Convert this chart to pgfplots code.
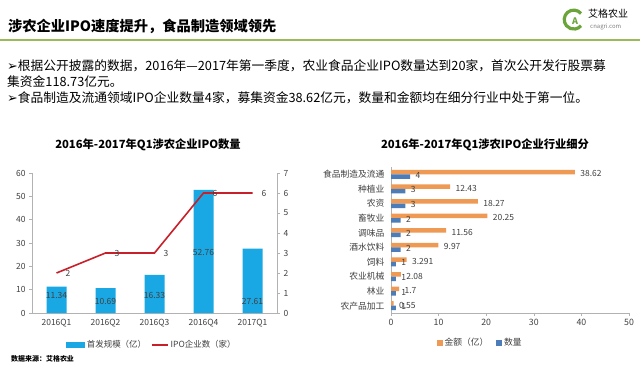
\documentclass[border=0pt]{standalone}
\usepackage{pgfplots}
\pgfplotsset{compat=1.18}
\usepackage{fontspec}
\setmainfont{Noto Sans CJK SC}
\newfontfamily\dejavu{DejaVu Sans}
\definecolor{barblue}{HTML}{1AA8E4}
\definecolor{linered}{HTML}{C8202A}
\definecolor{amtorange}{HTML}{EE9A55}
\definecolor{cntblue}{HTML}{4C7DB8}
\definecolor{logogreen}{HTML}{6BA53A}
\definecolor{rulegreen}{HTML}{9BBB59}
\definecolor{ticktext}{HTML}{404040}
\begin{document}
\begin{tikzpicture}[x=1bp,y=1bp]
\path[use as bounding box] (0,0) rectangle (640,367);
\fill[white] (0,0) rectangle (640,367);
% header
\node[anchor=west, inner sep=0, font=\fontsize{14.3}{14.3}\selectfont\bfseries] at (8,341) {涉农企业IPO速度提升，食品制造领域领先};
\fill[rulegreen] (0,326) rectangle (640,327.6);
% logo
\draw[logogreen, line width=3.2bp] (581,353.5) arc[start angle=40, end angle=320, radius=9.5];
\node[text=logogreen, font=\fontsize{9}{9}\selectfont\bfseries, inner sep=0] at (575,346) {A};
\node[anchor=west, inner sep=0, font=\fontsize{10}{10}\selectfont] at (588,353) {艾格农业};
\node[anchor=west, inner sep=0, text=gray, font=\fontsize{6}{6}\selectfont] at (590,340.5) {cnagri.com};
% bullets
\node[anchor=west, inner sep=0, font=\fontsize{12.8}{12.8}\selectfont] at (7,301) {{\dejavu ➢}根据公开披露的数据，2016年—2017年第一季度，农业食品企业IPO数量达到20家，首次公开发行股票募};
\node[anchor=west, inner sep=0, font=\fontsize{12.8}{12.8}\selectfont] at (7,285) {集资金118.73亿元。};
\node[anchor=west, inner sep=0, font=\fontsize{12.8}{12.8}\selectfont] at (7,269) {{\dejavu ➢}食品制造及流通领域IPO企业数量4家，募集资金38.62亿元，数量和金额均在细分行业中处于第一位。};
% chart titles
\node[font=\fontsize{11.3}{11.3}\selectfont\bfseries] at (148,222) {2016年-2017年Q1涉农企业IPO数量};
\node[font=\fontsize{11.3}{11.3}\selectfont\bfseries] at (485,222) {2016年-2017年Q1涉农IPO企业行业细分};
% source
\node[anchor=west, inner sep=0, font=\fontsize{7}{7}\selectfont\bfseries] at (11,8) {数据来源：艾格农业};

% ===== left chart: bars =====
\begin{axis}[at={(32bp,54bp)}, anchor=south west, width=245bp, height=140bp, scale only axis,
  xmin=-0.5, xmax=4.5, ymin=0, ymax=60, ytick={0,10,...,60},
  xtick={0,1,2,3,4}, xticklabels={2016Q1,2016Q2,2016Q3,2016Q4,2017Q1},
  axis x line*=bottom, axis y line*=left,
  axis line style={draw=gray!60, line width=0.6bp, -},
  ytick style={draw=gray!60, line width=0.6bp}, xtick style={draw=none},
  tick align=outside, major tick length=3bp,
  tick label style={font=\fontsize{8.5}{8.5}\selectfont, text=ticktext},
  /pgf/number format/assume math mode=true,
  legend style={at={(0.49,-0.229)}, anchor=center, draw=none, fill=none, legend columns=2,
    font=\fontsize{8.5}{8.5}\selectfont, text=ticktext, /tikz/every even column/.append style={column sep=3bp}},
  legend cell align=left]
\addplot[ybar, bar width=20bp, fill=barblue, draw=none, forget plot] coordinates {(0,11.34) (1,10.69) (2,16.33) (3,52.76) (4,27.61)};
\addplot[draw=none, mark=none, forget plot, nodes near coords, point meta=explicit symbolic,
  nodes near coords style={anchor=center, font=\fontsize{8.5}{8.5}\selectfont, text=ticktext}]
  coordinates {(0,7.3)[11.34] (1,4.9)[10.69] (2,7.3)[16.33] (3,26)[52.76] (4,5.1)[27.61]};
\addlegendimage{area legend, legend image code/.code={\fill[barblue] (0bp,-2.5bp) rectangle (18bp,2.5bp);}}
\addlegendentry{首发规模（亿）}
\addlegendimage{legend image code/.code={\draw[linered, line width=1.6bp] (0bp,0bp) -- (16bp,0bp);}}
\addlegendentry{IPO企业数（家）}
\end{axis}
% ===== left chart: line =====
\begin{axis}[at={(32bp,54bp)}, anchor=south west, width=245bp, height=140bp, scale only axis,
  xmin=-0.5, xmax=4.5, ymin=0, ymax=7, ytick={0,1,...,7},
  axis x line=none, axis y line*=right,
  axis line style={draw=gray!60, line width=0.6bp, -},
  ytick style={draw=gray!60, line width=0.6bp},
  tick align=outside, major tick length=3bp,
  tick label style={font=\fontsize{8.5}{8.5}\selectfont, text=ticktext},
  /pgf/number format/assume math mode=true]
\addplot[linered, line width=1.6bp, mark=none, nodes near coords, point meta=explicit symbolic,
  nodes near coords style={anchor=west, xshift=5bp, yshift=0bp, font=\fontsize{8.5}{8.5}\selectfont, text=ticktext}]
  coordinates {(0,2)[2] (1,3)[3] (2,3)[3] (3,6)[6] (4,6)[6]};
\end{axis}

% ===== right chart =====
\begin{axis}[at={(391bp,54bp)}, anchor=south west, width=238bp, height=146bp, scale only axis,
  xmin=0, xmax=50, xtick={0,10,...,50}, ymin=-0.5, ymax=9.5, ytick={0,1,...,9},
  yticklabels={农产品加工,林业,农业机械,饲料,酒水饮料,调味品,畜牧业,农资,种植业,食品制造及流通},
  axis x line*=bottom, axis y line*=left,
  axis line style={draw=gray!60, line width=0.6bp, -},
  xtick style={draw=gray!60, line width=0.6bp}, ytick style={draw=none},
  tick align=outside, major tick length=3bp,
  tick label style={font=\fontsize{8.8}{8.8}\selectfont, text=ticktext},
  /pgf/number format/assume math mode=true,
  legend style={at={(0.375,-0.205)}, anchor=center, draw=none, fill=none, legend columns=2,
    font=\fontsize{8.8}{8.8}\selectfont, text=ticktext, /tikz/every even column/.append style={column sep=6bp}},
  legend cell align=left]
\addplot[xbar, bar width=4.5bp, bar shift=2.25bp, fill=amtorange, draw=none,
  nodes near coords, point meta=explicit symbolic,
  nodes near coords style={anchor=west, xshift=2bp, yshift=0.5bp, font=\fontsize{8.5}{8.5}\selectfont, text=ticktext},
  legend image code/.code={\fill[amtorange] (0bp,-2.8bp) rectangle (5.6bp,2.8bp);}]
  coordinates {(0.55,0)[0.55] (1.7,1)[1.7] (2.08,2)[2.08] (3.291,3)[3.291] (9.97,4)[9.97] (11.56,5)[11.56] (20.25,6)[20.25] (18.27,7)[18.27] (12.43,8)[12.43] (38.62,9)[38.62]};
\addlegendentry{金额（亿）}
\addplot[xbar, bar width=4.5bp, bar shift=-2.25bp, fill=cntblue, draw=none,
  nodes near coords, point meta=explicit symbolic,
  nodes near coords style={anchor=west, xshift=2bp, yshift=-1bp, font=\fontsize{8.5}{8.5}\selectfont, text=ticktext},
  legend image code/.code={\fill[cntblue] (0bp,-2.8bp) rectangle (5.6bp,2.8bp);}]
  coordinates {(1,0)[1] (1,1)[1] (1,2)[1] (1,3)[1] (2,4)[2] (2,5)[2] (2,6)[2] (3,7)[3] (3,8)[3] (4,9)[4]};
\addlegendentry{数量}
\end{axis}
\end{tikzpicture}
\end{document}
